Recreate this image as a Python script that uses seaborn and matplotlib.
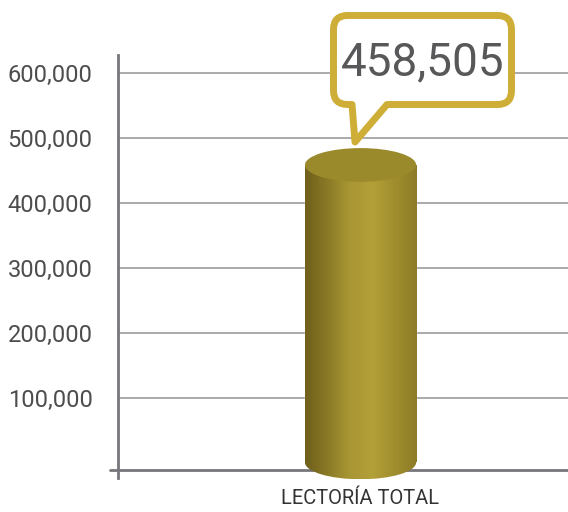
import numpy as np
import pandas as pd
import matplotlib
matplotlib.use('Agg')
import matplotlib.pyplot as plt
import seaborn as sns
from matplotlib.patches import Ellipse, PathPatch
from matplotlib.path import Path
from matplotlib.colors import LinearSegmentedColormap

# data
categories = ['LECTORÍA TOTAL']
values = [458505]
callout_text = '458,505'
ytick_values = [100000, 200000, 300000, 400000, 500000, 600000]
ytick_labels = ['100,000', '200,000', '300,000', '400,000', '500,000', '600,000']

W, H = 568, 512
sns.set_style('white')
plt.rcParams['font.family'] = ['Roboto', 'DejaVu Sans']

y_bot, y_top = -45000, 628000
axis_y = -11700
fig = plt.figure(figsize=(W / 100, H / 100), dpi=100)
ax = fig.add_axes([118 / W, 20.4 / H, 1 - 118 / W, (491.6 - 55) / H])

df = pd.DataFrame({'cat': categories, 'val': values})
bar_w = 0.247
sns.barplot(data=df, x='cat', y='val', width=bar_w, color='#9a8a2b', ax=ax, zorder=3)

# gradient on the cylinder body
cmap = LinearSegmentedColormap.from_list('gold', ['#6e5f1c', '#8a7a26', '#a99634', '#b3a038', '#a08e2e', '#8d7c26'])
grad = np.linspace(0, 1, 256).reshape(1, -1)
ell_h = 52000
for p in list(ax.patches):
    x0 = p.get_x()
    w = p.get_width()
    v = p.get_height()
    im = ax.imshow(grad, cmap=cmap, aspect='auto', extent=[x0, x0 + w, 0, v], zorder=4)
    im.set_clip_path(p)
    bottom = Ellipse((x0 + w / 2, 0), w, ell_h, facecolor='none', edgecolor='none')
    ax.add_patch(bottom)
    im2 = ax.imshow(grad, cmap=cmap, aspect='auto', extent=[x0, x0 + w, -ell_h / 2, 0], zorder=4)
    im2.set_clip_path(bottom)
    top = Ellipse((x0 + w / 2, v), w, ell_h, facecolor='#9b8a2c', edgecolor='none', zorder=5)
    ax.add_patch(top)
ax.set_ylim(y_bot, y_top)
ax.set_xlim(-0.539, 0.461)

ax.set_yticks(ytick_values)
ax.set_yticklabels(ytick_labels)
ax.yaxis.grid(True, color='#a4a4a4', lw=1.3, zorder=0)
ax.xaxis.grid(False)
ax.set_axisbelow(True)
ax.set_xlabel('')
ax.set_ylabel('')
ax.tick_params(axis='y', length=9.4, width=2, color='#77767b', pad=9, labelsize=17, labelcolor='#4d4d4d')
ax.tick_params(axis='x', length=0, pad=14, labelsize=14.5, labelcolor='#333333')

for s in ['top', 'right']:
    ax.spines[s].set_visible(False)
ax.spines['left'].set_color('#77767b')
ax.spines['left'].set_linewidth(2)
ax.spines['bottom'].set_color('#77767b')
ax.spines['bottom'].set_linewidth(2)
ax.spines['bottom'].set_position(('data', axis_y))
ax.spines['left'].set_bounds(-24000, y_top)

# small overhang of the x axis line to the left
fig.add_artist(plt.Line2D([110 / W, 118 / W], [1 - 470 / H] * 2, color='#77767b', lw=2))

# speech bubble
L, R, T, B, r = 333.5, 511.5, 15.5, 104.5, 14
pts = [
    ((L + r, T), Path.MOVETO), ((R - r, T), Path.LINETO),
    ((R, T), Path.CURVE3), ((R, T + r), Path.CURVE3),
    ((R, B - r), Path.LINETO),
    ((R, B), Path.CURVE3), ((R - r, B), Path.CURVE3),
    ((387, B), Path.LINETO), ((355, 142), Path.LINETO), ((352, B), Path.LINETO),
    ((L + r, B), Path.LINETO),
    ((L, B), Path.CURVE3), ((L, B - r), Path.CURVE3),
    ((L, T + r), Path.LINETO),
    ((L, T), Path.CURVE3), ((L + r, T), Path.CURVE3),
    ((L + r, T), Path.CLOSEPOLY),
]
verts = [(x / W, 1 - y / H) for (x, y), _ in pts]
codes = [c for _, c in pts]
bubble = PathPatch(Path(verts, codes), transform=fig.transFigure, facecolor='white',
                   edgecolor='#cfae37', lw=5, joinstyle='round', zorder=10)
fig.add_artist(bubble)
fig.text((L + R) / 2 / W, 1 - 62 / H, callout_text, ha='center', va='center',
         fontsize=33, color='#58585a', zorder=11)

fig.savefig('out.png', dpi=100)
